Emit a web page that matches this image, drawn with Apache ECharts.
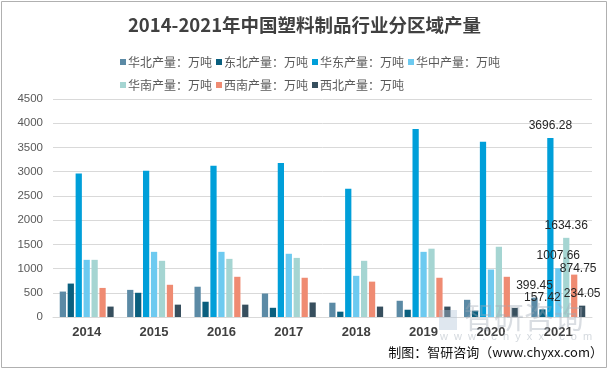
<!DOCTYPE html>
<html>
<head>
<meta charset="utf-8">
<script src="https://cdn.jsdelivr.net/npm/echarts@6/dist/echarts.min.js"></script>
<style>html,body{margin:0;padding:0;background:#fff}#c{width:609px;height:370px}</style>
</head>
<body>
<div id="c"></div>
<script>
const categories = ['2014','2015','2016','2017','2018','2019','2020','2021'];
const seriesNames = ['华北产量：万吨','东北产量：万吨','华东产量：万吨','华中产量：万吨','华南产量：万吨','西南产量：万吨','西北产量：万吨'];
const huabei   = [525, 560, 625, 485, 295, 335, 355, 399.45];
const dongbei  = [690, 500, 315, 190, 110, 150, 130, 157.42];
const huadong  = [2960, 3020, 3120, 3180, 2645, 3880, 3615, 3696.28];
const huazhong = [1180, 1345, 1345, 1305, 850, 1345, 980, 1007.66];
const huanan   = [1180, 1160, 1200, 1220, 1160, 1410, 1450, 1634.36];
const xinan    = [600, 665, 830, 810, 730, 810, 830, 874.75];
const xibei    = [215, 255, 255, 300, 215, 215, 190, 234.05];
const yTicks = { min: 0, max: 4500, interval: 500 };

const allData = [huabei, dongbei, huadong, huazhong, huanan, xinan, xibei];
const colors = ['#5b8aa5','#0a5f7e','#009fd9','#6dcaf0','#a5d5d2','#ef8b72','#374f5e'];
const labelOffsets = [[0,0],[0,0],[0,0],[0,0],[0,0],[4,6],[0,0]];

const chart = echarts.init(document.getElementById('c'));
chart.setOption({
  animation: false,
  backgroundColor: '#fff',
  title: {
    text: '2014-2021年中国塑料制品行业分区域产量',
    left: 'center', top: 11,
    textStyle: { fontSize: 18.5, fontWeight: 'bold', color: '#404040', fontFamily: 'Noto Sans CJK SC' }
  },
  legend: [
    { data: seriesNames.slice(0,4), left: 115, top: 51, itemWidth: 6, itemHeight: 6, itemGap: 4, icon: 'rect',
      textStyle: { fontSize: 12, color: '#595959', fontFamily: 'Noto Sans CJK SC', padding: [0,0,0,-3] } },
    { data: seriesNames.slice(4), left: 115, top: 74, itemWidth: 6, itemHeight: 6, itemGap: 4, icon: 'rect',
      textStyle: { fontSize: 12, color: '#595959', fontFamily: 'Noto Sans CJK SC', padding: [0,0,0,-3] } }
  ],
  grid: { left: 53, right: 17, top: 99, bottom: 53, containLabel: false },
  xAxis: {
    type: 'category', data: categories,
    axisLine: { lineStyle: { color: '#d9d9d9' } },
    axisTick: { show: false },
    axisLabel: { fontSize: 13, fontWeight: 'bold', color: '#404040', margin: 9, fontFamily: 'Liberation Sans' }
  },
  yAxis: {
    type: 'value', min: yTicks.min, max: yTicks.max, interval: yTicks.interval,
    axisLine: { show: false }, axisTick: { show: false },
    splitLine: { lineStyle: { color: '#d9d9d9' } },
    axisLabel: { fontSize: 11.5, color: '#595959', margin: 10, fontFamily: 'Liberation Sans', formatter: v => String(v) }
  },
  series: seriesNames.map((n, i) => ({
    name: n, type: 'bar', data: allData[i],
    barCategoryGap: '20%', barGap: '27%',
    itemStyle: { color: colors[i] },
    label: {
      show: true, position: 'top', distance: 6, offset: labelOffsets[i],
      fontSize: 12, color: '#262626', fontFamily: 'Liberation Sans',
      formatter: p => p.dataIndex === 7 ? String(p.value) : ''
    }
  })),
  graphic: [
    { type: 'rect', shape: { x: 1.5, y: 1.5, width: 605, height: 366 }, style: { fill: 'none', stroke: '#b0b0b0', lineWidth: 1 }, silent: true },
    { type: 'rect', shape: { x: 439, y: 310, width: 18, height: 20 }, style: { fill: 'rgba(175,195,215,0.4)' }, z: 100, silent: true },
    { type: 'text', left: 464, top: 302, style: { text: '智研咨询', fontSize: 30, fill: 'rgba(160,170,182,0.4)', fontFamily: 'Noto Sans CJK SC' }, z: 100, silent: true },
    { type: 'text', left: 440, top: 331, style: { text: 'w  w  w  .  c  h  y  x  x  .  c  o  m', fontSize: 11, fill: 'rgba(160,170,182,0.45)', fontFamily: 'Liberation Sans' }, z: 100, silent: true },
    { type: 'text', right: 6, top: 346, style: { text: '制图：智研咨询（www.chyxx.com）', fontSize: 13, fill: '#111', fontFamily: 'Noto Sans CJK SC' }, z: 101, silent: true }
  ]
});
</script>
</body>
</html>
